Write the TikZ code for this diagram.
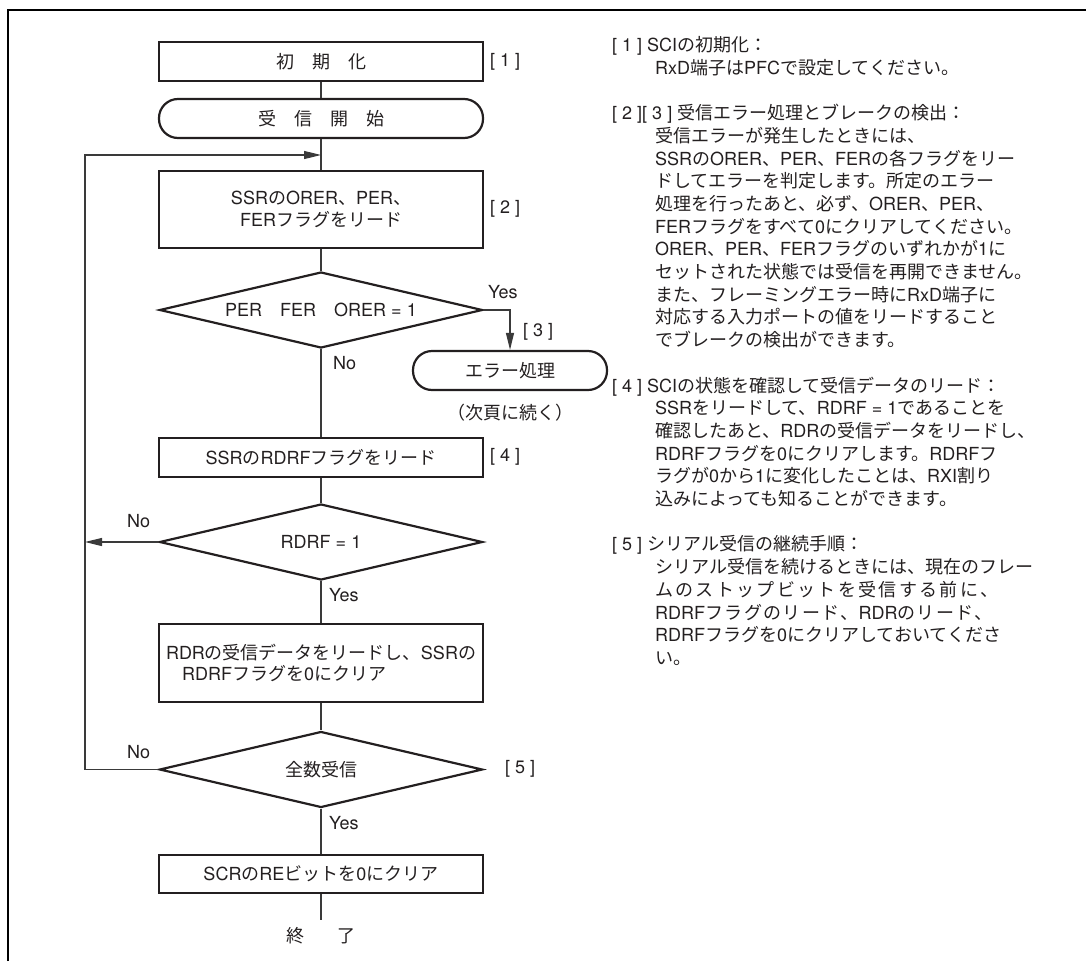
\documentclass[tikz,border=0pt]{standalone}
\usepackage{fontspec}
\usetikzlibrary{shapes.geometric,arrows.meta}
\setmainfont{TeX Gyre Heros}
\newfontfamily\cjkfont{Noto Sans CJK JP}
\newfontfamily\cjkwide{Noto Sans CJK JP}[LetterSpace=13]
\newfontfamily\cjkmid{Noto Sans CJK JP}[LetterSpace=8]
\newfontfamily\latfont{TeX Gyre Heros}
\XeTeXinterchartokenstate=1
\chardef\cjkcls=7
\newcount\cjkcc
\def\setcjkrange#1#2{\cjkcc=#1\relax\loop\XeTeXcharclass\cjkcc=\cjkcls\relax\advance\cjkcc by 1\relax\ifnum\cjkcc<#2\relax\repeat}
\setcjkrange{"3000}{"3100}
\setcjkrange{"4E00}{"A000}
\setcjkrange{"FF00}{"FFF0}
\XeTeXinterchartoks 0 \cjkcls = {\cjkfont}
\XeTeXinterchartoks 4095 \cjkcls = {\cjkfont}
\XeTeXinterchartoks \cjkcls 0 = {\latfont}
\XeTeXinterchartoks \cjkcls 4095 = {\latfont}
\definecolor{ink}{HTML}{231F20}
\definecolor{boxc}{HTML}{231F20}
\definecolor{linec}{HTML}{3A3A3A}
\newcommand\fsz{\fontsize{18}{21.5}\selectfont}
\newcommand\plines[1]{\vtop{\baselineskip=22.7pt\lineskiplimit=-100pt\lineskip=0pt #1}}
\tikzset{
  proc/.style={draw=boxc, line width=2.2pt, minimum width=324pt, inner sep=0pt, align=center},
  term/.style={draw=boxc, line width=2.2pt, rounded corners=19pt, inner sep=0pt},
  dec/.style={draw=boxc, line width=2.2pt, diamond, aspect=4.25, minimum width=323pt, minimum height=76pt, inner sep=0pt},
  conn/.style={draw=linec, line width=1.2pt},
  arr/.style={conn, -{Triangle[length=17pt,width=8pt]}},
  lbl/.style={anchor=west, inner sep=0pt},
  bt/.style={anchor=base west, inner sep=0pt},
}
\begin{document}
\begin{tikzpicture}[x=1pt,y=-1pt, every node/.style={font=\fsz, text=ink}]
\useasboundingbox (0,0) rectangle (1086,961);
% frame
\draw[line width=2.5pt, black] (8,961) -- (8,10) -- (1086,10);

% flowchart nodes
\node[proc, minimum height=39pt] (init) at (321,61.5) {初　期　化};
\node[term, minimum width=324pt, minimum height=39pt] (start) at (321,118.5) {受　信　開　始};
\node[proc, minimum height=77pt] (ssr) at (321,209.5) {SSRのORER、PER、\\FERフラグをリード};
\node[dec] (d1) at (321,310) {PER\hspace{1em}FER\hspace{1em}ORER = 1};
\node[term, minimum width=194pt, minimum height=39pt] (err) at (510,370.5) {エラー処理};
\node[inner sep=0pt] (cont) at (510,413) {（次頁に続く）};
\node[proc, minimum height=39pt] (rdrf) at (321,457.5) {SSRのRDRFフラグをリード};
\node[dec] (d2) at (321,542) {RDRF = 1};
\node[proc, minimum height=78pt, align=left] (rdr) at (321,663) {RDRの受信データをリードし、SSRの\\\hspace*{0.9em}RDRFフラグを0にクリア};
\node[dec] (d3) at (321,769.5) {全数受信};
\node[proc, minimum height=38pt] (scr) at (321,874) {SCRのREビットを0にクリア};
\node[inner sep=0pt] (fin) at (321,936) {終\hspace{1.85em}了};

\coordinate (lx2) at (85,542);
\coordinate (lt) at (85,155);
\coordinate (jn) at (321,155);
\coordinate (endl) at (321,920);

% connectors
\draw[conn] (init.south) -- (start.north);
\draw[conn] (start.south) -- (ssr.north);
\draw[conn] (ssr.south) -- (d1.north);
\draw[conn] (d1.south) -- (rdrf.north);
\draw[arr] (d1.east) -| (err.north);
\draw[conn] (rdrf.south) -- (d2.north);
\draw[arr] (d2.west) -- (lx2);
\draw[conn] (d2.south) -- (rdr.north);
\draw[conn] (rdr.south) -- (d3.north);
\draw[arr] (d3.west) -| (lt) -- (jn);
\draw[conn] (d3.south) -- (scr.north);
\draw[conn] (scr.south) -- (endl);

% labels
\node[lbl] (l1) at (490,62) {[ 1 ]};
\node[lbl] (l2) at (490,209) {[ 2 ]};
\node[lbl] (l3) at (523,332) {[ 3 ]};
\node[lbl] (l4) at (490,457) {[ 4 ]};
\node[lbl] (l5) at (505,769) {[ 5 ]};
\node[lbl] (y1) at (488,292) {Yes};
\node[lbl] (n1) at (333,363) {No};
\node[lbl] (n2) at (127,521) {No};
\node[lbl] (y2) at (329,595) {Yes};
\node[lbl] (n3) at (127,752) {No};
\node[lbl] (y3) at (329,823) {Yes};

% explanations
\node[bt] (h1) at (612,51.5) {[ 1 ] SCIの初期化：};
\node[bt] (b1) at (655,74.2) {\plines{\hbox{RxD端子はPFCで設定してください。}}};

\node[bt] (h2) at (612,119.6) {[ 2 ][ 3 ] 受信エラー処理とブレークの検出：};
\node[bt] (b2) at (655,142.3) {\plines{%
\hbox{受信エラーが発生したときには、}%
\hbox{SSRのORER、PER、FERの各フラグをリー}%
\hbox{ドしてエラーを判定します。所定のエラー}%
\hbox{処理を行ったあと、必ず、ORER、PER、}%
\hbox{FERフラグをすべて0にクリアしてください。}%
\hbox{ORER、PER、FERフラグのいずれかが1に}%
\hbox{セットされた状態では受信を再開できません。}%
\hbox{また、フレーミングエラー時にRxD端子に}%
\hbox{対応する入力ポートの値をリードすること}%
\hbox{でブレークの検出ができます。}}};

\node[bt] (h3) at (612,392) {[ 4 ] SCIの状態を確認して受信データのリード：};
\node[bt] (b3) at (655,414.7) {\plines{%
\hbox{SSRをリードして、RDRF = 1であることを}%
\hbox{確認したあと、RDRの受信データをリードし、}%
\hbox{RDRFフラグを0にクリアします。RDRFフ}%
\hbox{ラグが0から1に変化したことは、RXI割り}%
\hbox{込みによっても知ることができます。}}};

\node[bt] (h4) at (612,550.9) {[ 5 ] シリアル受信の継続手順：};
\node[bt] (b4) at (655,573.6) {\plines{%
\hbox{シリアル受信を続けるときには、現在のフレー}%
\hbox{\let\cjkfont\cjkwide ムのストップビットを受信する前に、}%
\hbox{\let\cjkfont\cjkmid RDRFフラグのリード、RDRのリード、}%
\hbox{RDRFフラグを0にクリアしておいてくださ}%
\hbox{い。}}};
\end{tikzpicture}
\end{document}
